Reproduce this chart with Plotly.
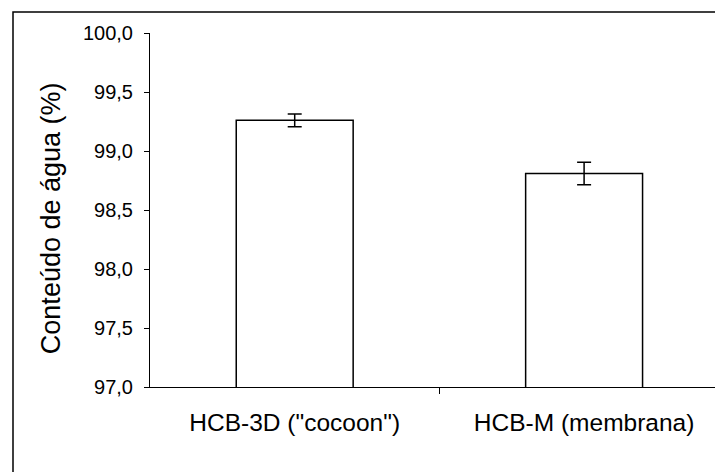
import plotly.graph_objects as go

categories = ['HCB-3D ("cocoon")', 'HCB-M (membrana)']
values = [99.26, 98.81]
errors = [0.054, 0.095]
y_ticks = [97.0, 97.5, 98.0, 98.5, 99.0, 99.5, 100.0]

FONT = "Arial, Liberation Sans, sans-serif"
xpos = list(range(len(categories)))

fig = go.Figure()
fig.add_trace(go.Bar(
    x=xpos, y=values, width=0.404,
    marker=dict(color="white", line=dict(color="black", width=1.5)),
    error_y=dict(type="data", array=errors, visible=True, color="black",
                 thickness=1.5, width=7),
))

W, H = 715, 472
L, T, B = 150, 33, 85
plot_w = W - L
spacing = 289.4
fig.update_layout(
    width=W, height=H,
    margin=dict(l=L, r=0, t=T, b=B),
    paper_bgcolor="white", plot_bgcolor="white",
    separators=",.",
    showlegend=False,
    font=dict(family=FONT, color="black"),
    xaxis=dict(
        range=[-0.5, -0.5 + plot_w / spacing],
        tickvals=xpos, ticktext=categories, ticks="", ticklen=0,
        tickfont=dict(size=24.5, family=FONT),
        showline=True, linecolor="black", linewidth=1,
        showgrid=False, zeroline=False,
        ticklabelstandoff=14,
        minor=dict(tickvals=[0.5], ticks="outside", ticklen=6,
                   tickcolor="black", tickwidth=1, showgrid=False),
    ),
    yaxis=dict(
        range=[97, 100], tickvals=y_ticks, tickformat=".1f",
        ticks="outside", ticklen=5, tickcolor="black", tickwidth=1,
        tickfont=dict(size=20, family=FONT),
        showline=True, linecolor="black", linewidth=1,
        showgrid=False, zeroline=False,
        ticklabelstandoff=7,
    ),
    annotations=[dict(
        text="Conteúdo de água (%)", textangle=-90,
        xref="paper", yref="paper",
        x=(51 - L) / plot_w, y=(386.7 - 218) / 353.7,
        xanchor="center", yanchor="middle", showarrow=False,
        font=dict(size=27, family=FONT, color="black"),
    )],
    shapes=[dict(
        type="rect", xref="paper", yref="paper",
        x0=(13 - L) / plot_w, x1=1.05,
        y0=-0.5, y1=(386.7 - 12) / 353.7,
        line=dict(color="black", width=1.5), fillcolor="rgba(0,0,0,0)",
        layer="below",
    )],
)

fig.write_html("out.html")
